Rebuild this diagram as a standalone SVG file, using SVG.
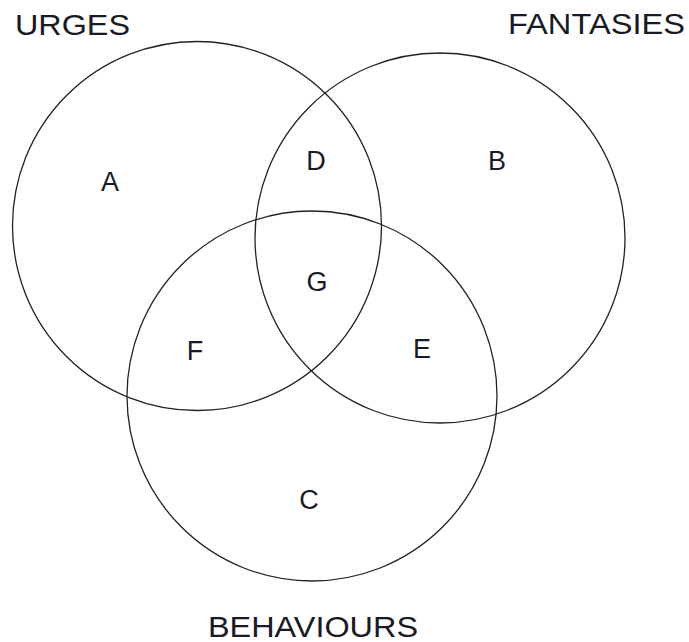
<svg xmlns="http://www.w3.org/2000/svg" width="689" height="642" viewBox="0 0 689 642">
<style>
.c{fill:none;stroke:#222;stroke-width:1.3}
.t{font-family:"Liberation Sans",Arial,sans-serif;fill:#1a1a24}
.big{font-size:29px}
.l{font-size:27px;text-anchor:middle}
</style>
<rect width="689" height="642" fill="#fff"/>
<g id="connectors"></g>
<g id="urges"><circle class="c" cx="197" cy="226" r="184.5"/><text class="t big" x="15" y="35" textLength="115" lengthAdjust="spacingAndGlyphs">URGES</text></g>
<g id="fantasies"><circle class="c" cx="440" cy="238" r="185"/><text class="t big" x="508" y="34" textLength="177" lengthAdjust="spacingAndGlyphs">FANTASIES</text></g>
<g id="behaviours"><circle class="c" cx="312" cy="396" r="185"/><text class="t big" x="208" y="637" textLength="210" lengthAdjust="spacingAndGlyphs">BEHAVIOURS</text></g>
<g id="A"><text class="t l" x="110" y="191">A</text></g>
<g id="B"><text class="t l" x="497" y="170">B</text></g>
<g id="D"><text class="t l" x="316" y="170">D</text></g>
<g id="G"><text class="t l" x="317" y="291">G</text></g>
<g id="F"><text class="t l" x="195" y="360">F</text></g>
<g id="E"><text class="t l" x="422" y="358">E</text></g>
<g id="C"><text class="t l" x="309" y="509">C</text></g>
</svg>
